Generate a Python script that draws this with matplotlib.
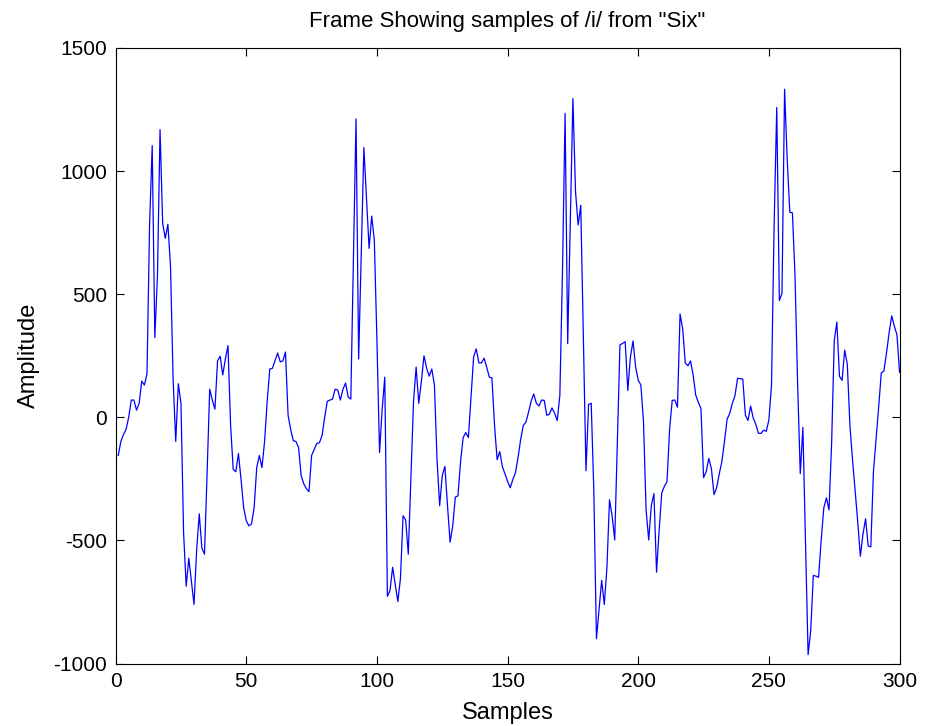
import numpy as np
import matplotlib
matplotlib.use("Agg")
import matplotlib.pyplot as plt

# amplitude of the frame, 50 samples per list
amp_001_050 = [-155, -98, -70, -49, 0, 70, 70, 29, 57, 147,
               131, 176, 784, 1103, 324, 572, 1168, 788, 727, 784,
               613, 155, -98, 136, 57, -466, -686, -572, -665, -760,
               -539, -392, -531, -556, -229, 114, 70, 33, 229, 248,
               172, 237, 291, -33, -212, -221, -147, -253, -368, -420]
amp_051_100 = [-441, -433, -368, -204, -155, -204, -98, 65, 196, 199,
               230, 261, 225, 229, 265, 8, -50, -95, -98, -122,
               -237, -270, -290, -302, -155, -130, -106, -103, -74, 0,
               65, 70, 74, 114, 111, 70, 114, 139, 82, 74,
               640, 1212, 237, 660, 1095, 890, 686, 817, 719, 310]
amp_101_150 = [-143, 33, 163, -727, -703, -609, -680, -748, -654, -400,
               -417, -556, -245, 65, 204, 57, 144, 250, 200, 167,
               196, 131, -172, -359, -237, -199, -359, -507, -441, -324,
               -319, -180, -82, -62, -82, 80, 245, 278, 221, 221,
               240, 204, 163, 160, -33, -172, -139, -200, -230, -260]
amp_151_200 = [-286, -253, -225, -163, -90, -33, -20, 20, 65, 95,
               57, 46, 70, 69, 8, 13, 38, 16, -13, 90,
               588, 1234, 299, 800, 1294, 915, 781, 861, 320, -217,
               52, 57, -300, -899, -780, -662, -760, -613, -335, -400,
               -498, -100, 294, 300, 307, 109, 245, 310, 204, 150]
amp_201_250 = [131, -16, -376, -498, -359, -310, -629, -458, -307, -280,
               -261, -49, 69, 70, 41, 420, 359, 221, 209, 229,
               172, 90, 60, 36, -245, -221, -167, -209, -314, -286,
               -230, -180, -98, -8, 16, 57, 87, 158, 157, 155,
               8, -13, 46, -3, -29, -65, -65, -52, -57, -10]
amp_251_300 = [131, 784, 1258, 474, 503, 1332, 1046, 833, 830, 572,
               131, -229, -41, -500, -964, -866, -642, -645, -650, -500,
               -368, -327, -376, -106, 310, 387, 167, 150, 273, 216,
               -33, -172, -300, -425, -564, -474, -412, -523, -526, -221,
               -90, 41, 180, 188, 261, 343, 412, 370, 335, 183]

amplitude = np.array(amp_001_050 + amp_051_100 + amp_101_150 +
                     amp_151_200 + amp_201_250 + amp_251_300)
samples = np.arange(1, len(amplitude) + 1)

x_ticks = [0, 50, 100, 150, 200, 250, 300]
y_ticks = [-1000, -500, 0, 500, 1000, 1500]

plt.rcParams['font.family'] = ['Liberation Sans', 'DejaVu Sans']
plt.rcParams['axes.unicode_minus'] = False

fig = plt.figure(figsize=(9.25, 7.26), dpi=100)
ax = fig.add_axes([0.125, 0.086, 0.8475, 0.848])
ax.plot(samples, amplitude, color='#0000ff', linewidth=0.9)

ax.set_xlim(0, 300)
ax.set_ylim(-1000, 1500)
ax.set_xticks(x_ticks)
ax.set_yticks(y_ticks)
ax.tick_params(direction='in', length=6, width=0.8, labelsize=15,
               top=True, right=True)
ax.tick_params(axis='x', pad=6)
ax.tick_params(axis='y', pad=6)
for s in ax.spines.values():
    s.set_linewidth(0.8)

ax.set_title('Frame Showing samples of /i/ from "Six"', fontsize=16, pad=15)
ax.set_xlabel('Samples', fontsize=17, labelpad=8)
ax.set_ylabel('Amplitude', fontsize=17, labelpad=10)

fig.savefig('out.png', dpi=100, facecolor='white')
